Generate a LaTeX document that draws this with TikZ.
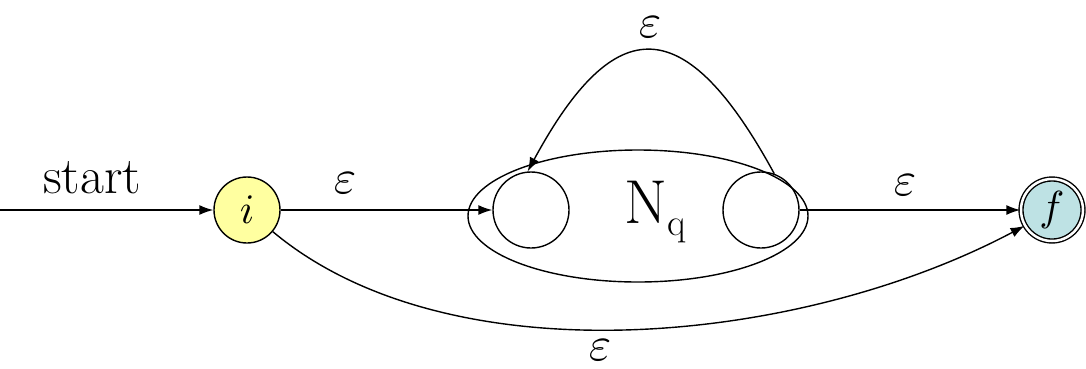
\documentclass[tikz,border=0pt]{standalone}
\usepackage{fontspec}
\usepackage{graphicx}
\usetikzlibrary{arrows.meta,shapes.geometric}
\definecolor{iyel}{RGB}{255,255,160}
\definecolor{fblue}{RGB}{190,226,228}
\newcommand{\eps}{\scalebox{4.8}{$\varepsilon$}}
\begin{document}
\begin{tikzpicture}[x=1pt,y=-1pt,
  edge/.style={line width=1.4pt,-{Latex[length=14pt,width=10pt]}},
  lbl/.style={inner sep=0pt},
  state/.style={circle,draw,line width=1.4pt,inner sep=0pt}]
\useasboundingbox (0,0) rectangle (1086,368);
\coordinate (s) at (0,210);
\node[state,fill=iyel,minimum size=66pt] (i) at (247,210) {\scalebox{4.2}{$i$}};
\node[draw,ellipse,line width=1.4pt,minimum width=340pt,minimum height=132pt,inner sep=0pt] (E) at (638,216) {};
\node[state,minimum size=76pt] (L) at (531,210) {};
\node[state,minimum size=76pt] (R) at (761,210) {};
\node[font=\fontsize{62}{62}\selectfont,inner sep=0pt] (N) at (655,212) {N\raisebox{-12pt}{\fontsize{38}{38}\selectfont q}};
\node[state,double,double distance=2.5pt,fill=fblue,minimum size=62pt] (f) at (1052,210) {\scalebox{4.2}{$f$}};
\node[font=\fontsize{52}{52}\selectfont,inner sep=0pt] (st) at (92,178) {start};
\draw[edge] (s) -- (i);
\draw[edge] (i) -- (L);
\node[lbl] (e0) at (345,183) {\eps};
\draw[edge] (R) -- (f);
\node[lbl] (e3) at (905,185) {\eps};
\draw[edge] (R.70) .. controls (685,10) and (615,10) .. (L.95);
\node[lbl] (e1) at (650,27) {\eps};
\draw[edge] (i.-40) .. controls (450,380) and (800,345) .. (f.-150);
\node[lbl] (e2) at (600,350) {\eps};
\end{tikzpicture}
\end{document}
